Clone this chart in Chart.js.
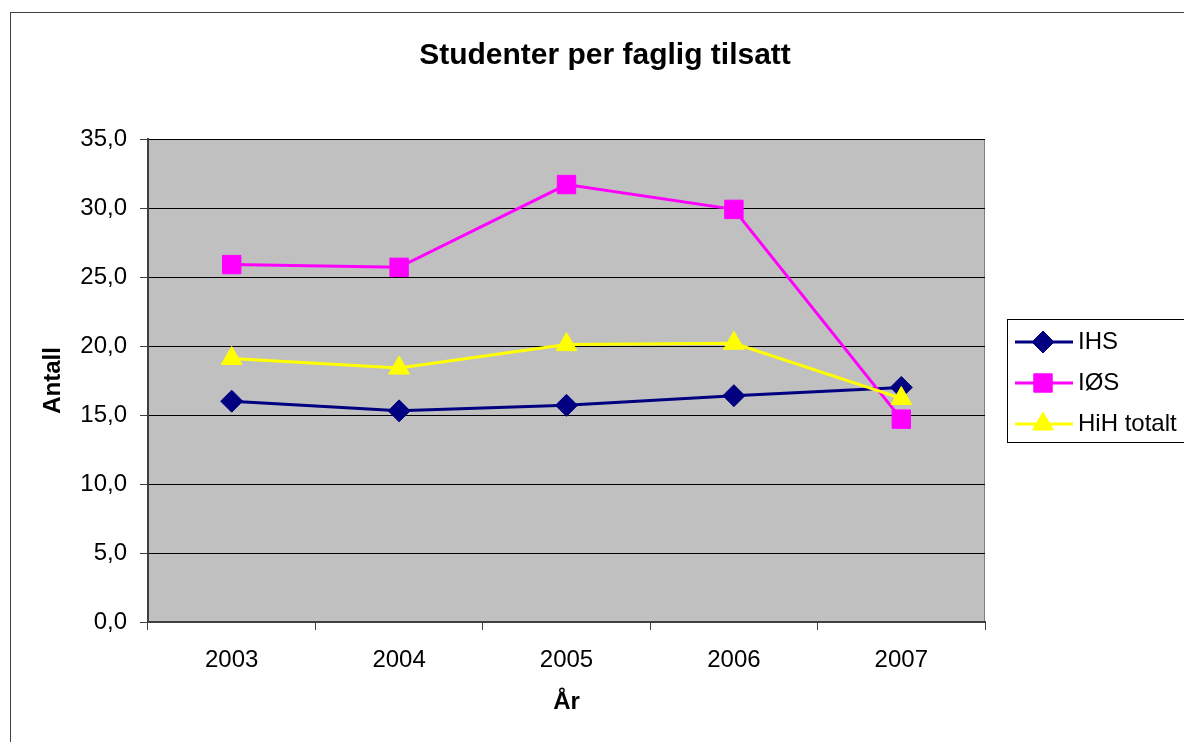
<!DOCTYPE html>
<html>
<head>
<meta charset="utf-8">
<title>Studenter per faglig tilsatt</title>
<script src="https://cdn.jsdelivr.net/npm/chart.js@4.4.1/dist/chart.umd.min.js"></script>
<style>
  html, body { margin: 0; padding: 0; background: #fff; overflow: hidden; }
  #wrap { position: relative; width: 1184px; height: 742px; overflow: hidden; }
  #frame { position: absolute; left: 10px; top: 12px; width: 1200px; height: 760px; border: 1px solid #404040; }
  canvas { position: absolute; left: 0; top: 0; }
</style>
</head>
<body>
<div id="wrap">
  <div id="frame"></div>
  <canvas id="chart" width="1184" height="742"></canvas>
</div>
<script>
// data
const years = ['2003', '2004', '2005', '2006', '2007'];
const ihs = [16.0, 15.3, 15.7, 16.4, 17.0];
const ios = [25.9, 25.7, 31.7, 29.9, 14.7];
const hih = [19.1, 18.4, 20.1, 20.2, 16.2];
const yTicks = ['0,0', '5,0', '10,0', '15,0', '20,0', '25,0', '30,0', '35,0'];

const FONT = '"Liberation Sans", Arial, sans-serif';

// grey plot area like the old Excel charts
const plotBg = {
    id: 'plotBg',
    beforeDraw(chart) {
        const { ctx, chartArea: a } = chart;
        ctx.save();
        ctx.fillStyle = '#C0C0C0';
        ctx.fillRect(a.left, a.top, a.right - a.left, a.bottom - a.top);
        ctx.strokeStyle = '#808080';
        ctx.lineWidth = 1;
        ctx.strokeRect(a.left + 0.5, a.top + 0.5, a.right - a.left - 1, a.bottom - a.top);
        ctx.restore();
    }
};

// legend with a frame, drawn from the datasets
const boxLegend = {
    id: 'boxLegend',
    afterDraw(chart) {
        const ctx = chart.ctx;
        const x0 = 1007, y0 = 319;
        ctx.save();
        ctx.fillStyle = '#fff';
        ctx.fillRect(x0, y0, 200, 123);
        ctx.strokeStyle = '#000';
        ctx.lineWidth = 1;
        ctx.strokeRect(x0 + 0.5, y0 + 0.5, 200, 123);
        chart.data.datasets.forEach((ds, i) => {
            const y = y0 + 23 + i * 41;
            ctx.strokeStyle = ds.borderColor;
            ctx.lineWidth = ds.borderWidth;
            ctx.beginPath();
            ctx.moveTo(x0 + 8, y);
            ctx.lineTo(x0 + 66, y);
            ctx.stroke();
            ctx.fillStyle = ds.pointBackgroundColor;
            ctx.lineWidth = 1;
            Chart.helpers.drawPoint(ctx, {
                pointStyle: ds.pointStyle,
                radius: ds.pointRadius,
                borderWidth: 1,
                rotation: 0
            }, x0 + 36, y);
            ctx.fillStyle = '#000';
            ctx.font = '24px ' + FONT;
            ctx.textAlign = 'left';
            ctx.textBaseline = 'middle';
            ctx.fillText(ds.label, x0 + 71, y);
        });
        ctx.restore();
    }
};

new Chart(document.getElementById('chart'), {
    type: 'line',
    data: {
        labels: years,
        datasets: [
            {
                label: 'IHS', data: ihs, order: 2,
                borderColor: '#000080', backgroundColor: '#000080',
                pointBackgroundColor: '#000080', pointBorderColor: '#000080',
                borderWidth: 3, pointStyle: 'rectRot', pointRadius: 11, pointBorderWidth: 1
            },
            {
                label: 'IØS', data: ios, order: 1,
                borderColor: '#FF00FF', backgroundColor: '#FF00FF',
                pointBackgroundColor: '#FF00FF', pointBorderColor: '#FF00FF',
                borderWidth: 3, pointStyle: 'rect', pointRadius: 13, pointBorderWidth: 1
            },
            {
                label: 'HiH totalt', data: hih, order: 0,
                borderColor: '#FFFF00', backgroundColor: '#FFFF00',
                pointBackgroundColor: '#FFFF00', pointBorderColor: '#FFFF00',
                borderWidth: 3, pointStyle: 'triangle', pointRadius: 12, pointBorderWidth: 1
            }
        ]
    },
    options: {
        responsive: false,
        animation: false,
        layout: { padding: { left: 26, top: 0, right: 0, bottom: 0 } },
        plugins: {
            legend: { display: false },
            tooltip: { enabled: false },
            title: {
                display: true,
                text: 'Studenter per faglig tilsatt',
                color: '#000',
                font: { family: FONT, size: 30, weight: 'bold' },
                padding: { top: 38, bottom: 65 }
            }
        },
        scales: {
            x: {
                offset: true,
                afterFit(scale) { scale.height = 120; },
                grid: { drawOnChartArea: false, offset: true, tickLength: 8, tickColor: '#404040', tickWidth: 1 },
                border: { color: '#404040', width: 2 },
                ticks: { color: '#000', padding: 16, font: { family: FONT, size: 24 } },
                title: {
                    display: true, text: 'År', color: '#000',
                    font: { family: FONT, size: 24, weight: 'bold' },
                    padding: { top: 0, bottom: 25 }
                }
            },
            y: {
                min: 0, max: 35,
                afterFit(scale) { scale.width = 122; },
                grid: { color: '#000', lineWidth: 1, tickLength: 8, tickColor: '#404040' },
                border: { color: '#404040', width: 2 },
                ticks: {
                    stepSize: 5, color: '#000', padding: 13,
                    font: { family: FONT, size: 24 },
                    callback: (v, i) => yTicks[i]
                },
                title: {
                    display: true, text: 'Antall', color: '#000',
                    font: { family: FONT, size: 24, weight: 'bold' },
                    padding: { top: 13, bottom: 0 }
                }
            },
            // empty right-hand axis that keeps room for the legend box
            legendSpace: {
                type: 'linear',
                position: 'right',
                afterFit(scale) { scale.width = 199; },
                grid: { display: false },
                border: { display: false },
                ticks: { display: false }
            }
        }
    },
    plugins: [plotBg, boxLegend]
});
</script>
</body>
</html>
